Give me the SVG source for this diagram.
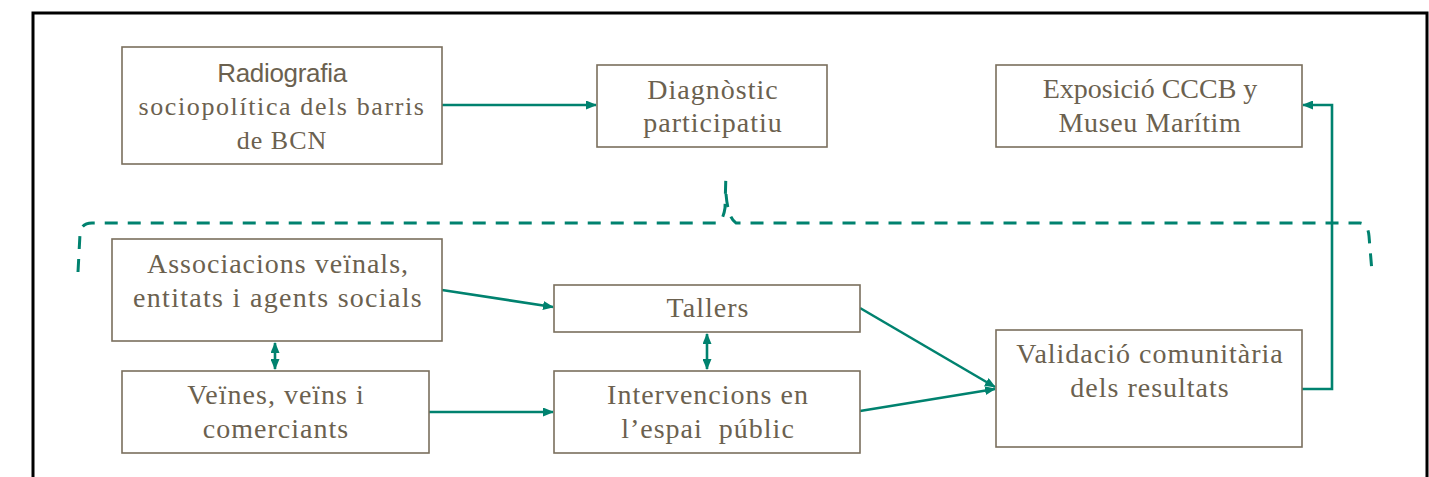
<svg xmlns="http://www.w3.org/2000/svg" width="1429" height="477" viewBox="0 0 1429 477">
<style>
.box{fill:#fff;stroke:#7a6f5d;stroke-width:1.6}
.t{font-family:"Liberation Serif","Times New Roman",serif;font-size:28px;fill:#6b614f;text-anchor:middle;letter-spacing:1px}
.s{font-family:"Liberation Sans",Arial,sans-serif;font-size:26px;fill:#6b614f;text-anchor:middle;letter-spacing:-0.3px}
.c{fill:none;stroke:#00826f;stroke-width:2.6}
.d{fill:none;stroke:#00826f;stroke-width:3;stroke-dasharray:13 10}
</style>
<defs>
<marker id="ah" markerUnits="userSpaceOnUse" markerWidth="11" markerHeight="9" refX="10" refY="4.5" orient="auto-start-reverse" viewBox="0 0 11 9">
<path d="M0,0 L11,4.5 L0,9 z" fill="#00826f"/>
</marker>
</defs>
<rect width="1429" height="477" fill="#fff"/>
<path d="M33,477 L33,13 L1427,13 L1427,477" fill="none" stroke="#000" stroke-width="3"/>
<g id="connectors">
<path class="c" d="M442,105 L596,105" marker-end="url(#ah)"/>
<path class="c" d="M442,290 L553,307" marker-end="url(#ah)"/>
<path class="c" d="M429,412 L553,412" marker-end="url(#ah)"/>
<path class="c" d="M275,343 L275,369" marker-start="url(#ah)" marker-end="url(#ah)"/>
<path class="c" d="M707,334 L707,369" marker-start="url(#ah)" marker-end="url(#ah)"/>
<path class="c" d="M860,308 L995,387" marker-end="url(#ah)"/>
<path class="c" d="M860,411 L995,389" marker-end="url(#ah)"/>
<path class="c" d="M1302,389 L1332,389 L1332,105 L1303,105" marker-end="url(#ah)"/>
<path class="d" d="M78,272 L80,234 Q81,223 92,223 L716,223 Q723,222 725,208 L726,172"/>
<path class="d" d="M726,194 Q728,218 736,223 L1360,223 Q1368,224 1369,236 L1372,272"/>
</g>
<g id="n-radiografia">
<rect class="box" x="122" y="47" width="320" height="117"/>
<text class="s" x="282" y="82">Radiografia</text>
<text class="t" x="282" y="115" style="font-size:26px;letter-spacing:1.6px">sociopolítica dels barris</text>
<text class="t" x="282" y="149" style="font-size:26px;letter-spacing:1px">de BCN</text>
</g>
<g id="n-diagnostic">
<rect class="box" x="597" y="65" width="230" height="82"/>
<text class="t" x="713" y="99">Diagnòstic</text>
<text class="t" x="713" y="132">participatiu</text>
</g>
<g id="n-exposicio">
<rect class="box" x="996" y="65" width="306" height="82"/>
<text class="t" x="1150" y="98" style="letter-spacing:0">Exposició CCCB y</text>
<text class="t" x="1150" y="132" style="letter-spacing:0.6px">Museu Marítim</text>
</g>
<g id="n-associacions">
<rect class="box" x="112" y="239" width="330" height="102"/>
<text class="t" x="278" y="273">Associacions veïnals,</text>
<text class="t" x="278" y="307" style="letter-spacing:1.3px">entitats i agents socials</text>
</g>
<g id="n-veines">
<rect class="box" x="122" y="371" width="307" height="82"/>
<text class="t" x="276" y="404">Veïnes, veïns i</text>
<text class="t" x="276" y="438">comerciants</text>
</g>
<g id="n-tallers">
<rect class="box" x="554" y="285" width="306" height="47"/>
<text class="t" x="708" y="317">Tallers</text>
</g>
<g id="n-intervencions">
<rect class="box" x="554" y="371" width="306" height="82"/>
<text class="t" x="708" y="404">Intervencions en</text>
<text class="t" x="708" y="438" style="white-space:pre">l’espai  públic</text>
</g>
<g id="n-validacio">
<rect class="box" x="996" y="330" width="306" height="117"/>
<text class="t" x="1150" y="363">Validació comunitària</text>
<text class="t" x="1150" y="397">dels resultats</text>
</g>
</svg>
